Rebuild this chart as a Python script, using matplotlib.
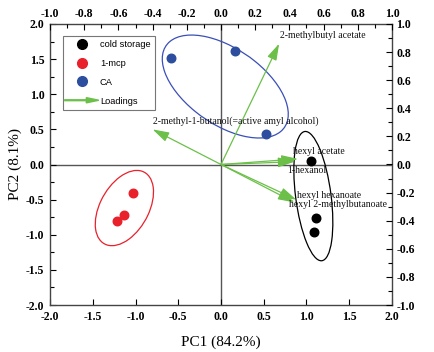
import numpy as np
import matplotlib
matplotlib.use('Agg')
import matplotlib.pyplot as plt
from matplotlib.patches import Ellipse, FancyArrow
from matplotlib.lines import Line2D
from matplotlib.legend_handler import HandlerPatch
from matplotlib.ticker import MultipleLocator, FormatStrFormatter

# ---------------- data ----------------
group_names = ['cold storage', '1-mcp', 'CA']
cold_x = [1.05, 1.11, 1.09]
cold_y = [0.05, -0.76, -0.96]
mcp_x = [-1.03, -1.14, -1.22]
mcp_y = [-0.41, -0.72, -0.80]
ca_x = [-0.58, 0.16, 0.53]
ca_y = [1.52, 1.62, 0.43]

# confidence ellipses: centre x, centre y, var x, var y, cov xy
ell_cold = [1.08, -0.45, 0.052, 0.847, -0.085]
ell_mcp = [-1.13, -0.62, 0.116, 0.287, 0.078]
ell_ca = [0.05, 1.11, 0.543, 0.537, -0.29]

loading_names = ['2-methylbutyl acetate',
                 '2-methyl-1-butanol(=active amyl alcohol)',
                 'hexyl acetate', '1-hexanol',
                 'hexyl hexanoate', 'hexyl 2-methylbutanoate']
loading_x = [0.34, -0.40, 0.45, 0.43, 0.44, 0.43]
loading_y = [0.86, 0.25, 0.04, 0.02, -0.25, -0.27]

# label anchor positions (loading axes units, left aligned)
label_pos = [(0.345, 0.92), (-0.40, 0.305), (0.42, 0.096),
             (0.385, -0.04), (0.443, -0.222), (0.40, -0.288)]

xlabel = 'PC1 (84.2%)'
ylabel = 'PC2 (8.1%)'

# ---------------- style ----------------
c_black = '#000000'
c_red = '#e8212b'
c_blue = '#2d4d9e'
c_blue_line = '#3a4fb8'
c_green = '#6cc04a'
serif = 'Liberation Serif'

fig = plt.figure(figsize=(4.35, 3.52), dpi=100)
pos = [50 / 435, 1 - 305 / 352, 342 / 435, 281 / 352]
ax = fig.add_axes(pos)
ax2 = fig.add_axes(pos, frameon=False)

ax.set_xlim(-2, 2)
ax.set_ylim(-2, 2)
ax2.set_xlim(-1, 1)
ax2.set_ylim(-1, 1)

ax.axhline(0, color='#555555', lw=1.0, zorder=1)
ax.axvline(0, color='#555555', lw=1.0, zorder=1)

ms = 38
ax.scatter(cold_x, cold_y, s=ms, color=c_black, zorder=4)
ax.scatter(mcp_x, mcp_y, s=ms, color=c_red, zorder=4)
ax.scatter(ca_x, ca_y, s=ms, color=c_blue, zorder=4)


def draw_ellipse(params, color):
    cx, cy, vx, vy, cxy = params
    M = np.array([[vx, cxy], [cxy, vy]])
    vals, vecs = np.linalg.eigh(M)
    w = 2 * np.sqrt(vals[1])
    h = 2 * np.sqrt(vals[0])
    ang = np.degrees(np.arctan2(vecs[1, 1], vecs[0, 1]))
    e = Ellipse((cx, cy), w, h, angle=ang, fill=False, edgecolor=color, lw=0.9, zorder=3)
    ax.add_patch(e)


draw_ellipse(ell_cold, c_black)
draw_ellipse(ell_mcp, c_red)
draw_ellipse(ell_ca, c_blue_line)

for lx, ly in zip(loading_x, loading_y):
    ax2.annotate('', xy=(lx, ly), xytext=(0, 0),
                 arrowprops=dict(arrowstyle='-|>,head_length=1.0,head_width=0.3',
                                 color=c_green, lw=0.9, shrinkA=0, shrinkB=0),
                 zorder=5)
for name, (tx, ty) in zip(loading_names, label_pos):
    ax2.text(tx, ty, name, family=serif, fontsize=7, ha='left', va='center',
             color='#111111', zorder=6)

# ticks
tsize = 8.5
ax.xaxis.set_major_locator(MultipleLocator(0.5))
ax.yaxis.set_major_locator(MultipleLocator(0.5))
ax.yaxis.set_minor_locator(MultipleLocator(0.25))
ax.xaxis.set_major_formatter(FormatStrFormatter('%.1f'))
ax.yaxis.set_major_formatter(FormatStrFormatter('%.1f'))
ax.tick_params(axis='both', which='major', direction='in', length=4, width=0.8,
               top=False, right=False, pad=4)
ax.tick_params(axis='y', which='minor', direction='in', length=3, width=0.8, right=False)
for lab in ax.get_xticklabels() + ax.get_yticklabels():
    lab.set_fontfamily(serif)
    lab.set_fontweight('bold')
    lab.set_fontsize(tsize)

ax2.xaxis.tick_top()
ax2.yaxis.tick_right()
ax2.xaxis.set_major_locator(MultipleLocator(0.2))
ax2.xaxis.set_minor_locator(MultipleLocator(0.1))
ax2.yaxis.set_major_locator(MultipleLocator(0.2))
ax2.yaxis.set_minor_locator(MultipleLocator(0.1))
ax2.xaxis.set_major_formatter(FormatStrFormatter('%.1f'))
ax2.yaxis.set_major_formatter(FormatStrFormatter('%.1f'))
ax2.tick_params(axis='both', which='major', direction='in', length=4, width=0.8, pad=3)
ax2.tick_params(axis='both', which='minor', direction='in', length=3, width=0.8)
for lab in ax2.get_xticklabels() + ax2.get_yticklabels():
    lab.set_fontfamily(serif)
    lab.set_fontweight('bold')
    lab.set_fontsize(tsize)

for sp in ax.spines.values():
    sp.set_color('#444444')
    sp.set_linewidth(1.0)

ax.set_xlabel(xlabel, family=serif, fontsize=11, labelpad=9)
ax.set_ylabel(ylabel, family=serif, fontsize=11, labelpad=3)


class HandlerArrow(HandlerPatch):
    def create_artists(self, legend, orig_handle, xdescent, ydescent, width, height, fontsize, trans):
        a = FancyArrow(-xdescent - 2, height / 2, width + 4, 0, length_includes_head=True,
                       head_width=height * 0.8, head_length=9, width=0.6,
                       color=c_green)
        a.set_transform(trans)
        return [a]


handles = [Line2D([], [], ls='', marker='o', ms=7, color=c_black),
           Line2D([], [], ls='', marker='o', ms=7, color=c_red),
           Line2D([], [], ls='', marker='o', ms=7, color=c_blue),
           FancyArrow(0, 0, 1, 0, color=c_green)]
labels = group_names + ['Loadings']
leg = ax.legend(handles, labels, loc='upper left', bbox_to_anchor=(13 / 342, 1 - 12 / 281),
                borderaxespad=0,
                frameon=True, fancybox=False, edgecolor='#777777', framealpha=1,
                prop=dict(family='Liberation Sans', size=6.7), labelspacing=1.05,
                handlelength=3.1, handletextpad=0.4, borderpad=0.45,
                handler_map={FancyArrow: HandlerArrow()})
leg.get_frame().set_linewidth(0.8)
leg.set_zorder(7)

fig.savefig('out.png', dpi=100)
